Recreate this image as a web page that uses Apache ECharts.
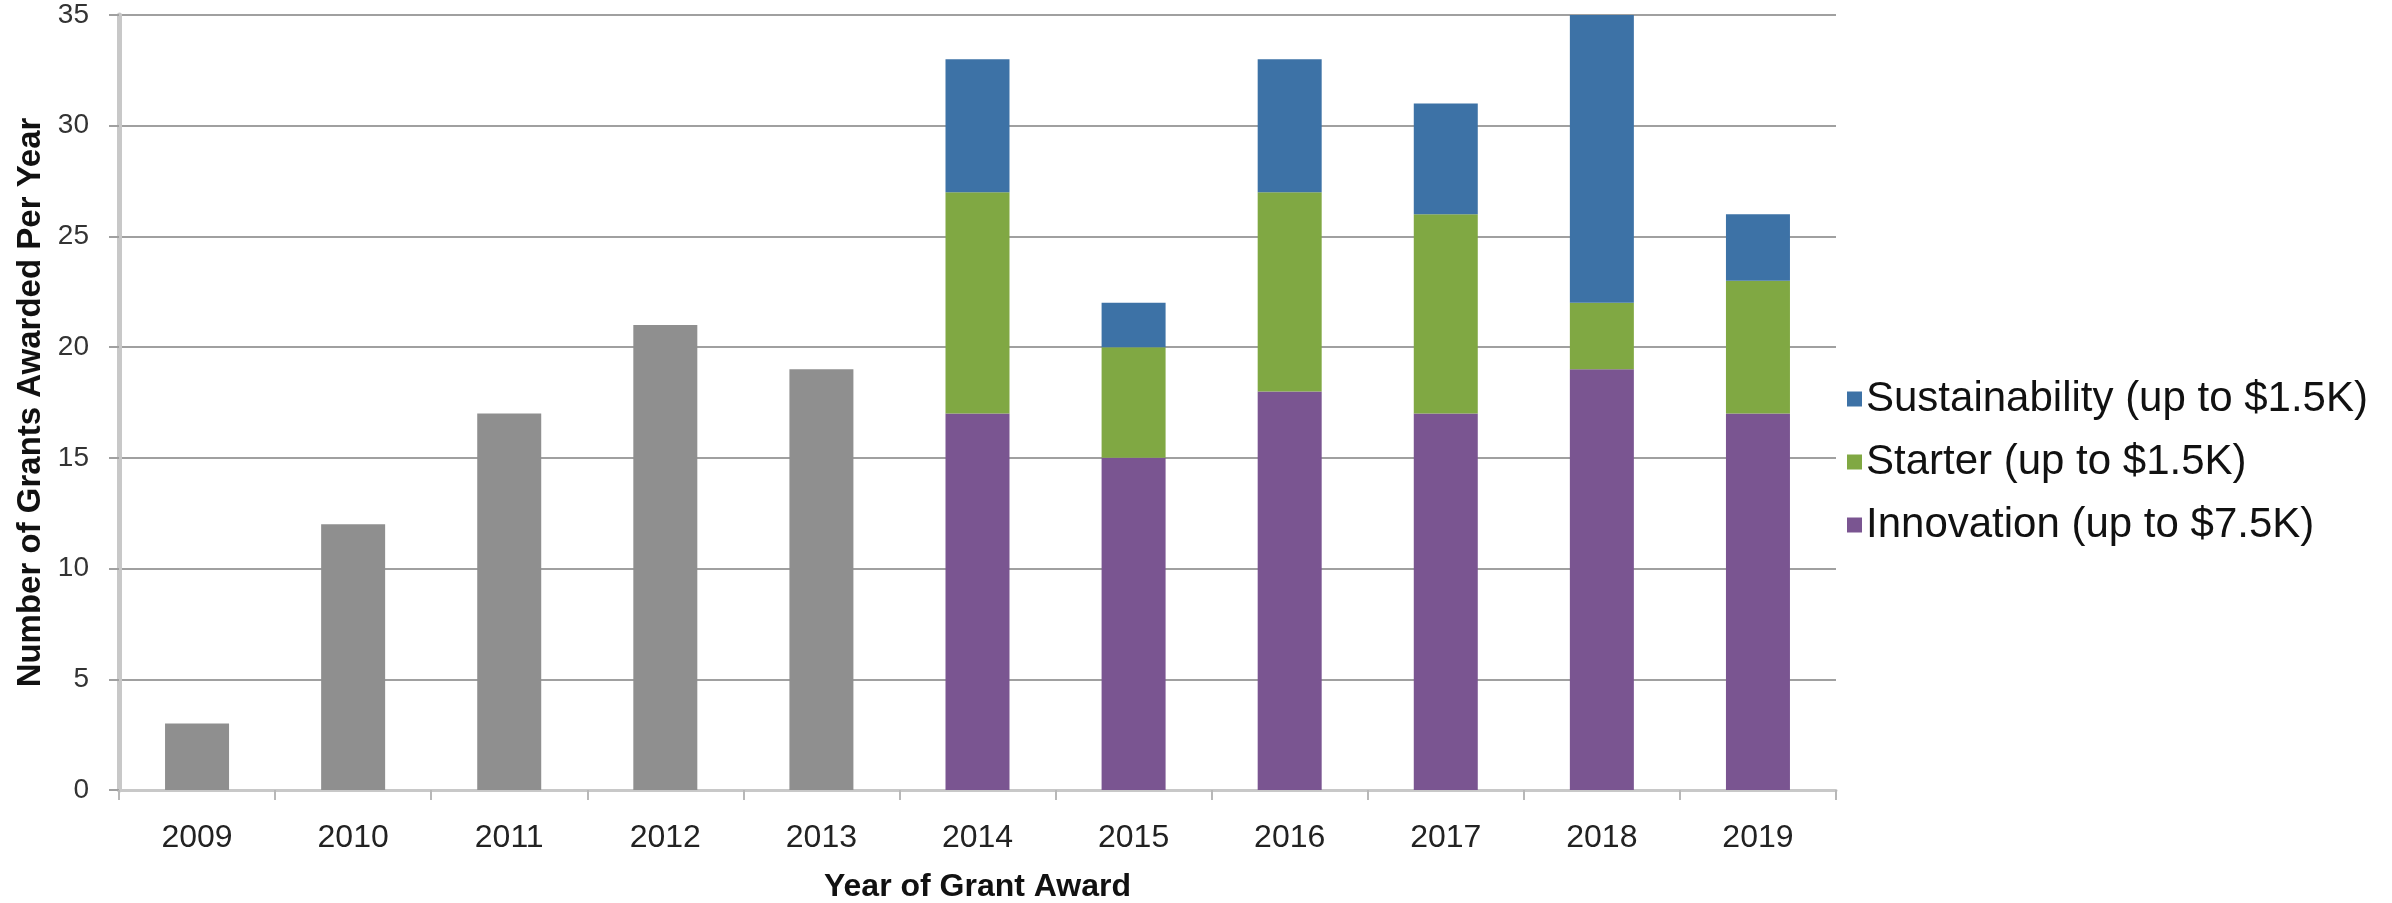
<!DOCTYPE html>
<html>
<head>
<meta charset="utf-8">
<script src="https://cdn.jsdelivr.net/npm/echarts@6/dist/echarts.min.js"></script>
<style>
html,body{margin:0;padding:0;background:#fff;}
#c{width:2392px;height:903px;}
</style>
</head>
<body>
<div id="c"></div>
<script>
const years = ['2009','2010','2011','2012','2013','2014','2015','2016','2017','2018','2019'];
const earlyGrants = [3, 12, 17, 21, 19, null, null, null, null, null, null];
const innovation = [null, null, null, null, null, 17, 15, 18, 17, 19, 17];
const starter = [null, null, null, null, null, 10, 5, 9, 9, 3, 6];
const sustainability = [null, null, null, null, null, 6, 2, 6, 5, 13, 3];
const yTicks = [0, 5, 10, 15, 20, 25, 30, 35];

const FONT = 'Liberation Sans, Arial, Helvetica, sans-serif';
const chart = echarts.init(document.getElementById('c'));
chart.setOption({
  animation: false,
  backgroundColor: '#ffffff',
  grid: {left: 119, right: 556, top: 15, bottom: 113, outerBoundsMode: 'none', containLabel: false},
  legend: {
    orient: 'vertical',
    left: 1842,
    top: 372,
    itemWidth: 15,
    itemHeight: 15,
    itemGap: 19,
    icon: 'rect',
    data: ['Sustainability (up to $1.5K)', 'Starter (up to $1.5K)', 'Innovation (up to $7.5K)'],
    textStyle: {fontFamily: FONT, fontSize: 42, color: '#111', lineHeight: 44, padding: [0,0,0,-1]}
  },
  xAxis: {
    type: 'category',
    data: years,
    name: 'Year of Grant Award',
    nameLocation: 'middle',
    nameGap: 81,
    nameTextStyle: {fontFamily: FONT, fontSize: 32, fontWeight: 'bold', color: '#111'},
    axisLine: {lineStyle: {color: '#c8c8c8', width: 3}},
    axisTick: {show: true, alignWithLabel: false, length: 10, lineStyle: {color: '#b8b8b8', width: 2}},
    axisLabel: {fontFamily: FONT, fontSize: 32, color: '#222', margin: 32}
  },
  yAxis: {
    type: 'value',
    min: 0,
    max: 35,
    interval: 5,
    name: 'Number of Grants Awarded Per Year',
    nameLocation: 'middle',
    nameGap: 70,
    nameTextStyle: {fontFamily: FONT, fontSize: 33, fontWeight: 'bold', color: '#111'},
    axisLine: {show: true, lineStyle: {color: '#c8c8c8', width: 5}},
    axisTick: {show: true, length: 10, lineStyle: {color: '#a0a0a0', width: 2}},
    axisLabel: {fontFamily: FONT, fontSize: 28, color: '#333', margin: 30,
      formatter: v => yTicks.includes(v) ? String(v) : ''},
    splitLine: {lineStyle: {color: '#a0a0a0', width: 2}}
  },
  series: [
    {name: 'Early grants', type: 'bar', stack: 'g', barWidth: '41%', data: earlyGrants, itemStyle: {color: '#8f8f8f'}},
    {name: 'Innovation (up to $7.5K)', type: 'bar', stack: 'g', data: innovation, itemStyle: {color: '#7a5591'}},
    {name: 'Starter (up to $1.5K)', type: 'bar', stack: 'g', data: starter, itemStyle: {color: '#80a843'}},
    {name: 'Sustainability (up to $1.5K)', type: 'bar', stack: 'g', data: sustainability, itemStyle: {color: '#3d72a6'}}
  ]
});
</script>
</body>
</html>
